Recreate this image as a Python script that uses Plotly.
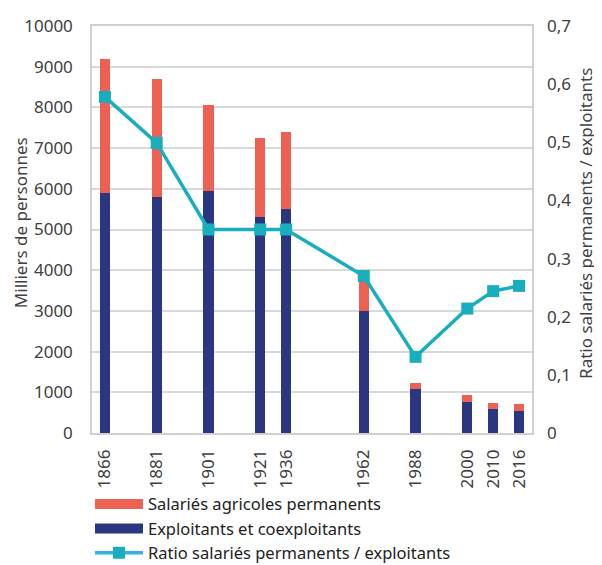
import plotly.graph_objects as go

# Category slots (blank slots keep the original uneven spacing)
x_slots = ["1866", "", "1881", "", "1901", "", "1921", "1936", "", "",
           "1962", "", "1988", "", "2000", "2010", "2016"]
years = ["1866", "1881", "1901", "1921", "1936", "1962", "1988", "2000", "2010", "2016"]
exploitants = [5900, 5800, 5950, 5300, 5500, 3000, 1070, 760, 590, 550]
salaries = [3300, 2900, 2100, 1950, 1900, 800, 150, 165, 150, 155]
ratio = [0.578, 0.499, 0.350, 0.350, 0.350, 0.270, 0.131, 0.214, 0.244, 0.253]
y_ticks_left = list(range(0, 10001, 1000))

pos = [x_slots.index(y) for y in years]

RED = "#EC6152"
BLUE = "#2B3681"
TEAL = "#18AEBE"
LEG_LINE = "#35B1E2"
FONT = "Noto Sans"
TXT = "#404040"

fig = go.Figure()
fig.add_trace(go.Bar(x=pos, y=exploitants, marker=dict(color=BLUE, line_width=0),
                     width=0.4, showlegend=False, name="Exploitants et coexploitants"))
fig.add_trace(go.Bar(x=pos, y=salaries, marker=dict(color=RED, line_width=0),
                     width=0.4, showlegend=False, name="Salariés agricoles permanents"))
fig.add_trace(go.Scatter(x=pos, y=ratio, yaxis="y2", mode="lines+markers",
                         line=dict(color=TEAL, width=3.5),
                         marker=dict(symbol="square", size=12, color=TEAL),
                         showlegend=False, name="Ratio salariés permanents / exploitants"))
# legend entries
fig.add_trace(go.Scatter(x=[None], y=[None], mode="lines", line=dict(color=RED, width=10),
                         name="Salariés agricoles permanents", legendrank=1))
fig.add_trace(go.Scatter(x=[None], y=[None], mode="lines", line=dict(color=BLUE, width=10),
                         name="Exploitants et coexploitants", legendrank=2))
fig.add_trace(go.Scatter(x=[None], y=[None], mode="lines+markers",
                         line=dict(color=LEG_LINE, width=3.5),
                         marker=dict(symbol="square", size=12, color=TEAL),
                         name="Ratio salariés permanents / exploitants", legendrank=3))

fig.update_layout(
    width=594, height=557,
    margin=dict(l=84, r=70, t=18, b=132, autoexpand=False),
    barmode="stack",
    separators=", ",
    plot_bgcolor="white", paper_bgcolor="white",
    font=dict(family=FONT, size=17, color=TXT),
    xaxis=dict(range=[-0.5, len(x_slots) - 0.5], tickmode="array",
               tickvals=pos, ticktext=years, tickangle=-90,
               showgrid=False, zeroline=False, showline=True, linecolor="#D0D0D0",
               linewidth=1.5, mirror=True, ticks="", ticklabelstandoff=8,
               tickfont=dict(size=17, color=TXT)),
    yaxis=dict(range=[0, 10000], tickvals=y_ticks_left, tickformat="d",
               showgrid=True, gridcolor="#D9D9D9", gridwidth=1.5, zeroline=False,
               showline=True, linecolor="#D0D0D0", linewidth=1.5, mirror=True,
               ticks="", ticklabelstandoff=14,
               tickfont=dict(size=17, color=TXT)),
    yaxis2=dict(range=[0, 0.7], dtick=0.1, overlaying="y", side="right",
                showgrid=False, zeroline=False, ticks="", ticklabelstandoff=14,
                tickfont=dict(size=17, color=TXT)),
    legend=dict(xref="container", x=0.138, xanchor="left",
                yref="container", y=0.1405, yanchor="top",
                orientation="v", itemwidth=48, tracegroupgap=0, traceorder="normal",
                font=dict(size=16.5, color="#222222"), bgcolor="rgba(0,0,0,0)"),
    showlegend=True,
    annotations=[
        dict(text="Milliers de personnes", xref="paper", yref="paper",
             x=-0.161, y=0.516, xanchor="center", yanchor="middle",
             textangle=-90, showarrow=False, font=dict(size=17, color=TXT)),
        dict(text="Ratio salariés permanents / exploitants", xref="paper", yref="paper",
             x=1.123, y=0.514, xanchor="center", yanchor="middle",
             textangle=-90, showarrow=False, font=dict(size=17, color=TXT)),
    ],
)

fig.write_html("out.html")
